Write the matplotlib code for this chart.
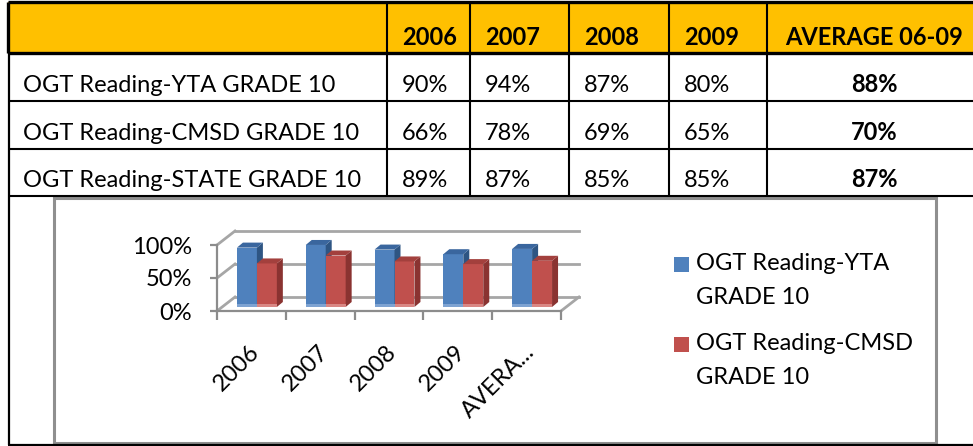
import matplotlib
matplotlib.use("Agg")
import matplotlib.pyplot as plt
from matplotlib.patches import Rectangle, Polygon
import matplotlib.transforms as mtransforms

plt.rcParams['font.family'] = ['Lato', 'DejaVu Sans']

# ---- data ----
col_heads = ['2006', '2007', '2008', '2009', 'AVERAGE 06-09']
row_names = ['OGT Reading-YTA GRADE 10', 'OGT Reading-CMSD GRADE 10', 'OGT Reading-STATE GRADE 10']
yta = [90, 94, 87, 80, 88]
cmsd = [66, 78, 69, 65, 70]
state = [89, 87, 85, 85, 87]
table_vals = [yta, cmsd, state]
cat_labels = ['2006', '2007', '2008', '2009', 'AVERA...']
y_ticks = [0, 50, 100]

FS = 17
W, H = 973, 446
fig = plt.figure(figsize=(W / 100, H / 100), dpi=100)

# background axes in pixel units, used for the table + frames
bg = fig.add_axes([0, 0, 1, 1])
bg.set_xlim(0, W)
bg.set_ylim(H, 0)
bg.axis('off')

col_edges = [8, 387, 470, 569, 669, 767, 981]
row_edges = [2, 53, 101, 149, 196]

bg.add_patch(Rectangle((col_edges[0], row_edges[0]), col_edges[-1] - col_edges[0],
                       row_edges[1] - row_edges[0], facecolor='#FFC000', edgecolor='none'))

# table grid
bg.plot([8, W], [2, 2], color='black', lw=2.4, solid_capstyle='butt')
bg.plot([8, W], [53, 53], color='black', lw=2.4, solid_capstyle='butt')
for y in row_edges[2:]:
    bg.plot([8, W], [y, y], color='black', lw=1.5, solid_capstyle='butt')
bg.plot([8, 8], [2, 53], color='black', lw=2.4, solid_capstyle='butt')
bg.plot([8.5, 8.5], [53, 445], color='black', lw=1.6, solid_capstyle='butt')
for x in col_edges[1:-1]:
    bg.plot([x, x], [2, 196], color='black', lw=1.5, solid_capstyle='butt')
bg.plot([8, W], [444.5, 444.5], color='black', lw=1.6, solid_capstyle='butt')

# header texts
for j, h in enumerate(col_heads):
    if j < 4:
        bg.text(col_edges[j + 1] + 15, 45, h, ha='left', va='baseline',
                fontsize=FS, fontweight='bold')
    else:
        bg.text((col_edges[5] + col_edges[6]) / 2, 45, h, ha='center', va='baseline',
                fontsize=FS, fontweight='bold')

# body texts
for i, name in enumerate(row_names):
    yb = row_edges[i + 2] - 9
    bg.text(col_edges[0] + 15, yb, name, ha='left', va='baseline', fontsize=FS)
    for j, v in enumerate(table_vals[i]):
        if j < 4:
            bg.text(col_edges[j + 1] + 15, yb, f'{v}%', ha='left', va='baseline', fontsize=FS)
        else:
            bg.text((col_edges[5] + col_edges[6]) / 2, yb, f'{v}%', ha='center',
                    va='baseline', fontsize=FS, fontweight='bold')

# chart frame
bg.add_patch(Rectangle((54, 197.5), 882, 245, facecolor='none', edgecolor='#8f8f8f', lw=2.2))

# ---- chart (fake 3D column chart) ----
x0, x1, y0, y1 = 217, 561, 311, 245
ax = fig.add_axes([x0 / W, (H - y0) / H, (x1 - x0) / W, (y0 - y1) / H])
n = len(cat_labels)
ax.set_xlim(0, n)
ax.set_ylim(0, 100)
ax.patch.set_visible(False)
sx = (x1 - x0) / n          # px per category
sy = (y0 - y1) / 100        # px per percent

grid_c = '#a6a6a6'
wdx, wdy = 18 / sx, 14 / sy  # wall depth
for v in y_ticks:
    ax.plot([0, wdx], [v, v + wdy], color=grid_c, lw=2, clip_on=False, zorder=1)
    ax.plot([wdx, n + wdx], [v + wdy, v + wdy], color=grid_c, lw=2, clip_on=False, zorder=1)
ax.plot([n, n + wdx], [0, wdy], color=grid_c, lw=2, clip_on=False, zorder=1)

for s in ['top', 'right']:
    ax.spines[s].set_visible(False)
for s in ['left', 'bottom']:
    ax.spines[s].set_color('#8c8c8c')
    ax.spines[s].set_linewidth(1.6)

ax.set_yticks(y_ticks, [f'{v}%' for v in y_ticks])
ax.tick_params(axis='y', length=5, width=1.6, color='#8c8c8c', pad=13, labelsize=FS)
ax.set_xticks(range(n + 1), [''] * (n + 1))
ax.tick_params(axis='x', length=6.5, width=1.6, color='#8c8c8c')

bw = 0.29
bdx, bdy = 5.5 / sx, 4 / sy     # bars sit slightly back on the floor
ddx, ddy = 6 / sx, 5 / sy       # bar depth
blue = ('#4F81BD', '#3A669E', '#2E5583', '#7EA3D2')
red = ('#C0504D', '#A3403D', '#8A3331', '#D98784')


def bar3d(xs, vals, cols):
    bars = ax.bar(xs, vals, width=bw, bottom=bdy, align='edge', color=cols[0],
                  zorder=3, clip_on=False)
    for b in bars:
        x, y, w, h = b.get_x(), b.get_y(), b.get_width(), b.get_height()
        ax.add_patch(Polygon([(x + w, y), (x + w + ddx, y + ddy), (x + w + ddx, y + h + ddy),
                              (x + w, y + h)], closed=True, facecolor=cols[2],
                             edgecolor='none', zorder=3, clip_on=False))
        ax.add_patch(Polygon([(x, y + h), (x + ddx, y + h + ddy), (x + w + ddx, y + h + ddy),
                              (x + w, y + h)], closed=True, facecolor=cols[1],
                             edgecolor='none', zorder=3, clip_on=False))
        ax.add_patch(Rectangle((x, y), w, 3 / sy, facecolor=cols[3], edgecolor='none',
                               zorder=3, clip_on=False))
    return bars


centers = [i + 0.5 for i in range(n)]
bar3d([c - bw + bdx for c in centers], yta, blue)
bar3d([c + bdx for c in centers], cmsd, red)

# rotated category labels
off = mtransforms.ScaledTranslation(-3 / 100, -30 / 100, fig.dpi_scale_trans)
for c, lab in zip(centers, cat_labels):
    ax.text(c, 0, lab, transform=ax.transData + off, rotation=45, rotation_mode='anchor',
            ha='right', va='top', fontsize=FS)

# legend (square next to the first line of a two-line label)
for k, (name, cols) in enumerate(zip(row_names[:2], [blue, red])):
    yl = 264 + 80 * k
    bg.add_patch(Rectangle((674, yl - 7.5), 15, 15, facecolor=cols[0], edgecolor='none'))
    first, second = name.split(' GRADE')
    bg.text(696, yl, first, ha='left', va='center', fontsize=FS)
    bg.text(696, yl + 33, 'GRADE' + second, ha='left', va='center', fontsize=FS)

fig.savefig('out.png', dpi=100)
